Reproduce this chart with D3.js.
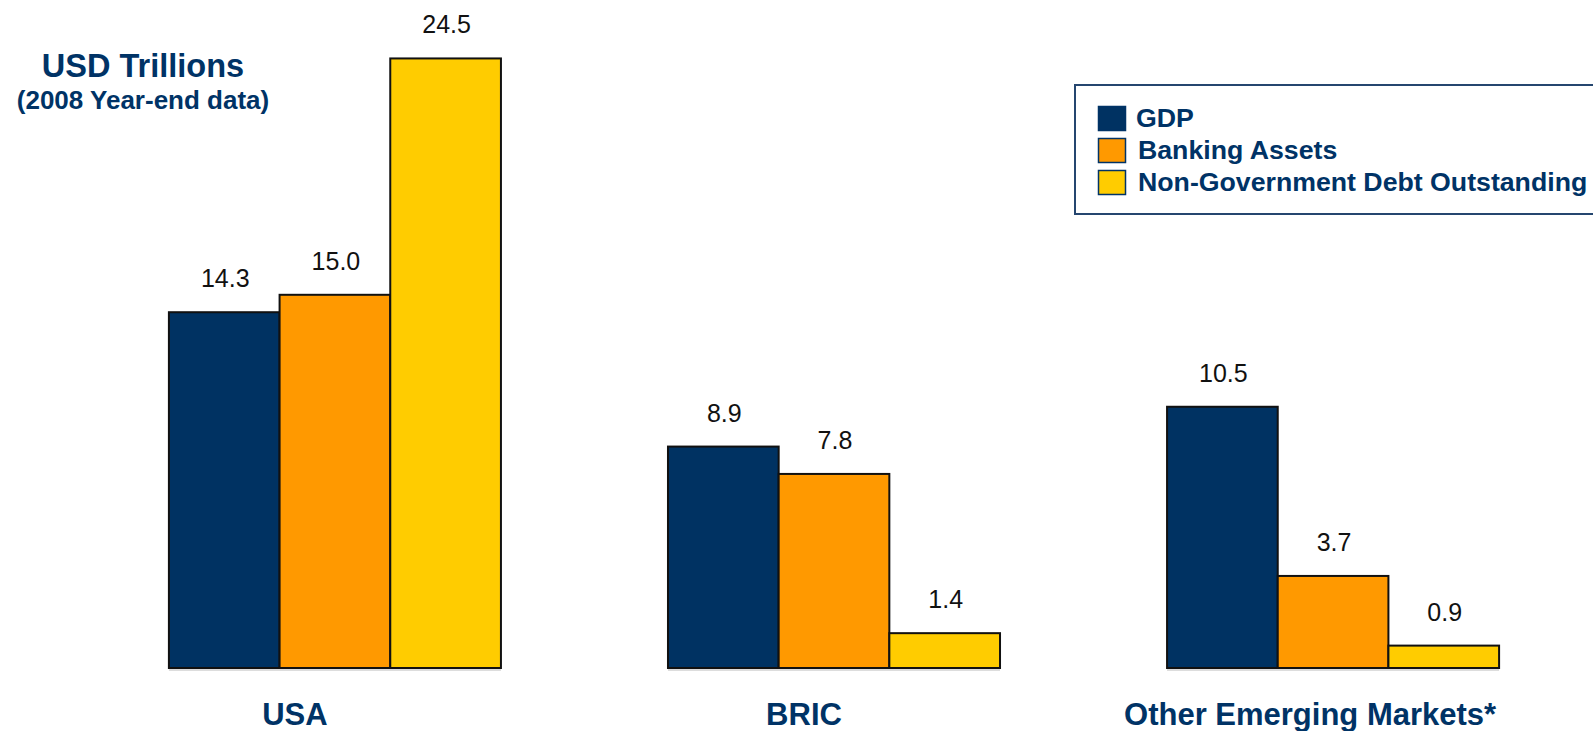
<!DOCTYPE html>
<html>
<head>
<meta charset="utf-8">
<script src="https://cdn.jsdelivr.net/npm/d3@7"></script>
<style>
  html, body { margin: 0; padding: 0; background: #fff; overflow: hidden; }
  svg { display: block; font-family: "Liberation Sans", Arial, sans-serif; }
</style>
</head>
<body>
<svg id="chart" width="1593" height="731"></svg>
<script>
// Regions compared (2008 year-end, USD trillions)
const categories = ["USA", "BRIC", "Other Emerging Markets*"];
const seriesNames = ["GDP", "Banking Assets", "Non-Government Debt Outstanding"];
const gdp = [14.3, 8.9, 10.5];
const bankingAssets = [15.0, 7.8, 3.7];
const nonGovDebt = [24.5, 1.4, 0.9];
const seriesValues = [gdp, bankingAssets, nonGovDebt];
const seriesColors = ["#003262", "#FF9900", "#FFCC00"];

const svg = d3.select("#chart");
const navy = "#003366";

const baseline = 668;
const y = d3.scaleLinear().domain([0, 25]).range([baseline, baseline - 622]);

const x0 = d3.scaleBand()
  .domain(categories)
  .range([119, 1549])
  .paddingInner(0.3347)
  .paddingOuter(0.1);

const x1 = d3.scaleBand()
  .domain(seriesNames)
  .range([0, x0.bandwidth()])
  .padding(0);

const rows = categories.map((c, i) => ({
  cat: c,
  bars: seriesNames.map((s, j) => ({ series: s, value: seriesValues[j][i], color: seriesColors[j] }))
}));

// faint base line under the bars
svg.selectAll("line.base")
  .data(categories)
  .join("line")
  .attr("class", "base")
  .attr("x1", d => x0(d))
  .attr("x2", d => x0(d) + x0.bandwidth())
  .attr("y1", baseline + 2)
  .attr("y2", baseline + 2)
  .attr("stroke", "#bbb")
  .attr("stroke-width", 1);

const groups = svg.selectAll("g.group")
  .data(rows)
  .join("g")
  .attr("class", "group")
  .attr("transform", d => `translate(${x0(d.cat)},0)`);

groups.selectAll("rect")
  .data(d => d.bars)
  .join("rect")
  .attr("x", d => x1(d.series))
  .attr("y", d => y(d.value))
  .attr("width", x1.bandwidth())
  .attr("height", d => y(0) - y(d.value))
  .attr("fill", d => d.color)
  .attr("stroke", "#111")
  .attr("stroke-width", 2);

groups.selectAll("text.value")
  .data(d => d.bars)
  .join("text")
  .attr("class", "value")
  .attr("x", d => x1(d.series) + x1.bandwidth() / 2 + 1)
  .attr("y", d => y(d.value) - 25)
  .attr("text-anchor", "middle")
  .attr("font-size", 25)
  .attr("fill", "#111")
  .text(d => d.value.toFixed(1));

// category labels sit slightly left of each group's centre
const labelShift = [-40, -30, -23];
svg.selectAll("text.cat")
  .data(categories)
  .join("text")
  .attr("class", "cat")
  .attr("x", (d, i) => x0(d) + x0.bandwidth() / 2 + labelShift[i])
  .attr("y", 725)
  .attr("text-anchor", "middle")
  .attr("font-size", 31)
  .attr("font-weight", "bold")
  .attr("fill", navy)
  .text(d => d);

// unit title
svg.append("text")
  .attr("x", 143)
  .attr("y", 77)
  .attr("text-anchor", "middle")
  .attr("font-size", 32.5)
  .attr("font-weight", "bold")
  .attr("fill", navy)
  .text("USD Trillions");

svg.append("text")
  .attr("x", 143)
  .attr("y", 109)
  .attr("text-anchor", "middle")
  .attr("font-size", 26)
  .attr("font-weight", "bold")
  .attr("fill", navy)
  .text("(2008 Year-end data)");

// legend frame runs off the right edge, so only three sides are drawn
const legend = svg.append("g");
legend.append("path")
  .attr("d", "M1640,85 H1075 V214 H1640")
  .attr("fill", "#fff")
  .attr("stroke", "#25466f")
  .attr("stroke-width", 2);

const legendRows = [106, 138, 170];
const legendItems = legend.selectAll("g.item")
  .data(seriesNames)
  .join("g")
  .attr("class", "item")
  .attr("transform", (d, i) => `translate(1098,${legendRows[i]})`);

legendItems.append("rect")
  .attr("x", 0.5)
  .attr("y", 0.5)
  .attr("width", 27)
  .attr("height", 24)
  .attr("fill", (d, i) => seriesColors[i])
  .attr("stroke", navy)
  .attr("stroke-width", 1.5);

legendItems.append("text")
  .attr("x", (d, i) => i === 0 ? 38 : 40)
  .attr("y", 21)
  .attr("font-size", 26.7)
  .attr("font-weight", "bold")
  .attr("fill", navy)
  .text(d => d);
</script>
</body>
</html>
